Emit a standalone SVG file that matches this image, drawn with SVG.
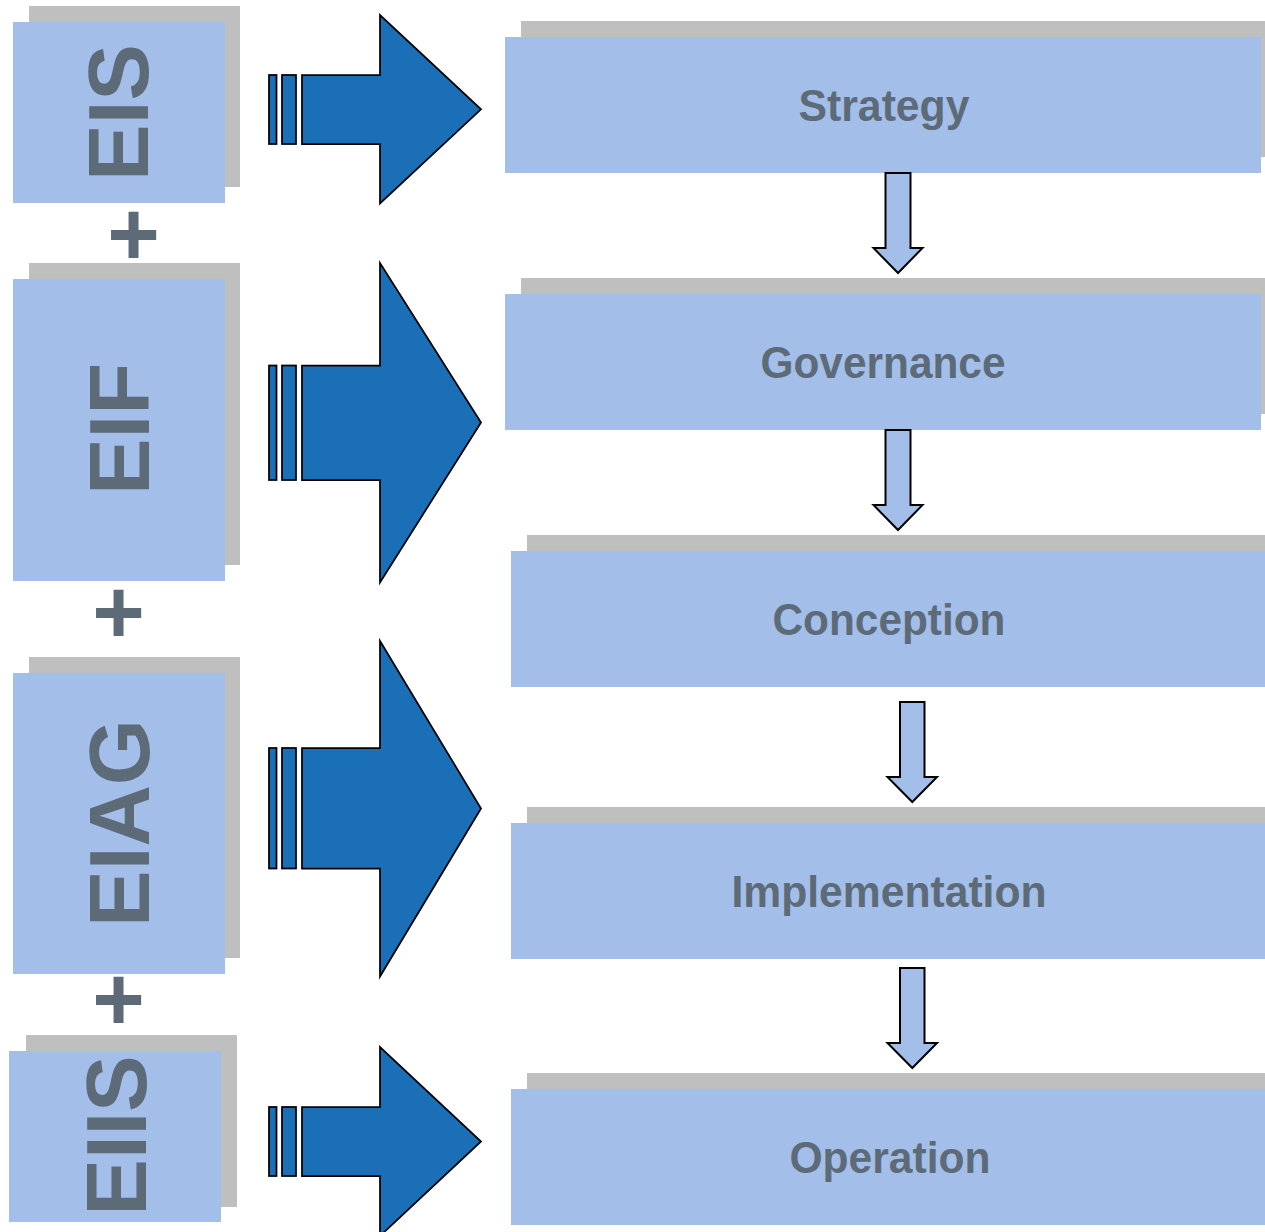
<svg xmlns="http://www.w3.org/2000/svg" width="1265" height="1232" viewBox="0 0 1265 1232">
<defs>
<style>
.sh{fill:#BFBFBF}
.bx{fill:#A3BEE8}
.lbl{font-family:"Liberation Sans",Arial,sans-serif;font-weight:bold;fill:#5D6B79;text-anchor:middle}
.big{font-size:85px}
.step{font-size:44px}
.plus{font-size:90px}
.ba{fill:#1B6FB7;stroke:#000;stroke-width:1.75;stroke-linejoin:miter}
.da{fill:#A3BEE8;stroke:#000;stroke-width:2}
</style>
</defs>
<rect width="1265" height="1232" fill="#fff"/>
<g id="EIS">
<rect class="sh" x="29" y="6" width="211" height="181"/>
<rect class="bx" x="13" y="22" width="212" height="181"/>
<text class="lbl big" transform="translate(148,112.5) rotate(-90)">EIS</text>
</g>
<g id="EIF">
<rect class="sh" x="29" y="263" width="211" height="302"/>
<rect class="bx" x="13" y="279" width="212" height="302"/>
<text class="lbl big" transform="translate(149,429) rotate(-90)">EIF</text>
</g>
<g id="EIAG">
<rect class="sh" x="29" y="657" width="211" height="301"/>
<rect class="bx" x="13" y="673" width="212" height="301"/>
<text class="lbl big" transform="translate(149,823) rotate(-90)">EIAG</text>
</g>
<g id="EIIS">
<rect class="sh" x="26" y="1035" width="211" height="172"/>
<rect class="bx" x="9" y="1051" width="212" height="171"/>
<text class="lbl big" transform="translate(146,1135.5) rotate(-90)">EIIS</text>
</g>
<g id="plus-signs">
<text class="lbl plus" x="133.5" y="265">+</text>
<text class="lbl plus" x="118.5" y="643">+</text>
<text class="lbl plus" x="118.5" y="1030">+</text>
</g>
<g id="strategy">
<rect class="sh" x="521" y="21" width="756" height="136"/>
<rect class="bx" x="505" y="37" width="756" height="136"/>
<text class="lbl step" x="884" y="121" textLength="171" lengthAdjust="spacingAndGlyphs">Strategy</text>
</g>
<g id="governance">
<rect class="sh" x="521" y="278" width="756" height="136"/>
<rect class="bx" x="505" y="294" width="756" height="136"/>
<text class="lbl step" x="883" y="378" textLength="245" lengthAdjust="spacingAndGlyphs">Governance</text>
</g>
<g id="conception">
<rect class="sh" x="527" y="535" width="756" height="136"/>
<rect class="bx" x="511" y="551" width="756" height="136"/>
<text class="lbl step" x="889" y="635" textLength="233" lengthAdjust="spacingAndGlyphs">Conception</text>
</g>
<g id="implementation">
<rect class="sh" x="527" y="807" width="756" height="136"/>
<rect class="bx" x="511" y="823" width="756" height="136"/>
<text class="lbl step" x="889" y="907" textLength="315" lengthAdjust="spacingAndGlyphs">Implementation</text>
</g>
<g id="operation">
<rect class="sh" x="527" y="1073" width="756" height="136"/>
<rect class="bx" x="511" y="1089" width="756" height="136"/>
<text class="lbl step" x="890" y="1173" textLength="201" lengthAdjust="spacingAndGlyphs">Operation</text>
</g>
<g id="connectors">
<g id="big-arrows">
<rect class="ba" x="269" y="75" width="7.5" height="69"/>
<rect class="ba" x="282" y="75" width="14" height="69"/>
<polygon class="ba" points="302,75 380,75 380,15 481,109.3 380,203.5 380,144 302,144"/>
<rect class="ba" x="269" y="365.5" width="7.5" height="114.5"/>
<rect class="ba" x="282" y="365.5" width="14" height="114.5"/>
<polygon class="ba" points="302,365.5 380,365.5 380,263 481,422.5 380,582.5 380,480 302,480"/>
<rect class="ba" x="269" y="748" width="7.5" height="120.5"/>
<rect class="ba" x="282" y="748" width="14" height="120.5"/>
<polygon class="ba" points="302,748 380,748 380,641 481,808.5 380,976.5 380,868.5 302,868.5"/>
<rect class="ba" x="269" y="1107" width="7.5" height="69"/>
<rect class="ba" x="282" y="1107" width="14" height="69"/>
<polygon class="ba" points="302,1107 380,1107 380,1047 481,1141.5 380,1236 380,1176 302,1176"/>
</g>
<g id="down-arrows">
<polygon class="da" points="885.5,173 910.5,173 910.5,248 922.5,248 898,273 873.5,248 885.5,248"/>
<polygon class="da" points="885.5,430 910.5,430 910.5,505 922.5,505 898,530 873.5,505 885.5,505"/>
<polygon class="da" points="900,702 924.5,702 924.5,777 937,777 912.3,802 887.5,777 900,777"/>
<polygon class="da" points="900,968 924.5,968 924.5,1043 937,1043 912.3,1068 887.5,1043 900,1043"/>
</g>
</g>
</svg>
